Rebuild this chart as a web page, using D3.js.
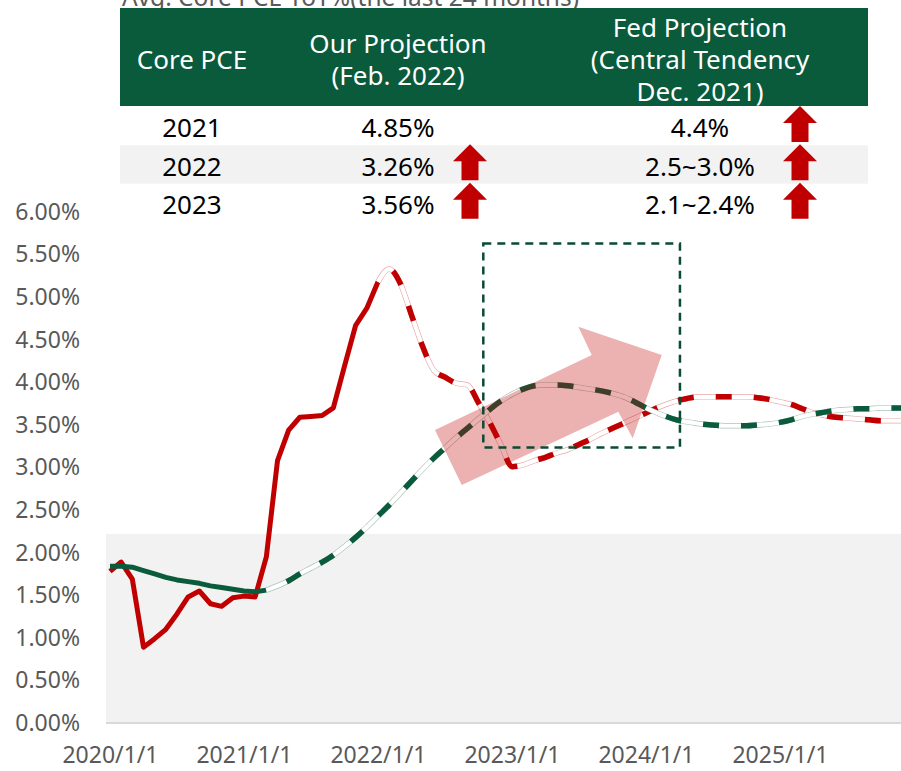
<!DOCTYPE html>
<html>
<head>
<meta charset="utf-8">
<script src="https://cdn.jsdelivr.net/npm/d3@7"></script>
<style>
  body { margin: 0; background: #fff; }
  text { font-family: "Noto Sans", sans-serif; }
</style>
</head>
<body>
<div id="chart"></div>
<script>
// months since 2020/1, monthly values in %
var redSeries = [1.78, 1.89, 1.69, 0.89, 0.99, 1.10, 1.28, 1.48, 1.55, 1.40,
  1.37, 1.47, 1.49, 1.48, 1.95, 3.08, 3.44, 3.59, 3.60, 3.61,
  3.70, 4.19, 4.67, 4.87, 5.18, 5.33, 5.16, 4.79, 4.42, 4.14,
  4.06, 3.99, 3.97, 3.76, 3.53, 3.27, 3.01, 3.03, 3.08, 3.12,
  3.17, 3.21, 3.27, 3.33, 3.40, 3.46, 3.52, 3.58, 3.64, 3.70,
  3.75, 3.79, 3.82, 3.83, 3.83, 3.83, 3.83, 3.83, 3.82, 3.80,
  3.77, 3.74, 3.69, 3.64, 3.61, 3.59, 3.58, 3.57, 3.56, 3.55,
  3.55, 3.55];
var greenSeries = [1.84, 1.84, 1.83, 1.79, 1.75, 1.71, 1.68, 1.66, 1.64, 1.61,
  1.59, 1.57, 1.55, 1.54, 1.56, 1.61, 1.67, 1.75, 1.82, 1.89,
  1.97, 2.07, 2.18, 2.30, 2.43, 2.56, 2.70, 2.84, 2.98, 3.11,
  3.23, 3.35, 3.46, 3.57, 3.68, 3.78, 3.86, 3.92, 3.96, 3.97,
  3.97, 3.96, 3.94, 3.92, 3.90, 3.87, 3.83, 3.77, 3.70, 3.64,
  3.59, 3.55, 3.53, 3.51, 3.50, 3.49, 3.49, 3.49, 3.50, 3.51,
  3.53, 3.56, 3.60, 3.63, 3.65, 3.67, 3.68, 3.69, 3.69, 3.70,
  3.70, 3.70];
var redSplit = 24;    // projection starts (dashed)
var greenSplit = 14;

var xTickMonths = [0, 12, 24, 36, 48, 60];
var xTickLabels = ["2020/1/1", "2021/1/1", "2022/1/1", "2023/1/1", "2024/1/1", "2025/1/1"];
var yTicks = [0, 0.5, 1, 1.5, 2, 2.5, 3, 3.5, 4, 4.5, 5, 5.5, 6];

var targetBand = [0, 2.22];   // shaded range, %

// table
var chartTitle = "Avg. Core PCE YoY%(the last 24 months)";
var headerCols = [["Core PCE"], ["Our Projection", "(Feb. 2022)"], ["Fed Projection", "(Central Tendency", "Dec. 2021)"]];
var rowYears = ["2021", "2022", "2023"];
var ourProj = ["4.85%", "3.26%", "3.56%"];
var fedProj = ["4.4%", "2.5~3.0%", "2.1~2.4%"];
var ourUp = [false, true, true];
var fedUp = [true, true, true];

// annotations in data units [month, %]
var boxRange = { m: [33.43, 51.04], v: [3.236, 5.63] };
var bigArrow = [[31.50, 2.794], [29.10, 3.44], [43.14, 4.32], [41.94, 4.653],
  [49.41, 4.32], [46.81, 3.343], [45.52, 3.655]];

var width = 901, height = 771;
var red = "#c00000", green = "#0a5a3c";

var svg = d3.select("#chart").append("svg")
  .attr("width", width)
  .attr("height", height);

var x = d3.scaleLinear().domain([0, 60]).range([110, 780]);
var y = d3.scaleLinear().domain([0, 6]).range([723, 212]);

// shaded band
svg.append("rect")
  .attr("x", x(-0.36))
  .attr("y", y(targetBand[1]))
  .attr("width", width - x(-0.36))
  .attr("height", y(targetBand[0]) - y(targetBand[1]))
  .attr("fill", "#f2f2f2");

// bottom axis line
svg.append("line")
  .attr("x1", x(-0.36)).attr("x2", width)
  .attr("y1", y(0)).attr("y2", y(0))
  .attr("stroke", "#d9d9d9").attr("stroke-width", 2);

// y axis
var yAxis = svg.append("g")
  .attr("transform", "translate(86,0)")
  .call(d3.axisLeft(y).tickValues(yTicks).tickSize(0).tickPadding(6)
    .tickFormat(function(d) { return d.toFixed(2) + "%"; }));
yAxis.select(".domain").remove();
yAxis.selectAll("text")
  .style("font-family", "Noto Sans")
  .style("font-size", "23px")
  .attr("fill", "#595959");

// x axis
var xAxis = svg.append("g")
  .attr("transform", "translate(0," + y(0) + ")")
  .call(d3.axisBottom(x).tickValues(xTickMonths).tickSize(0).tickPadding(24)
    .tickFormat(function(d, i) { return xTickLabels[i]; }));
xAxis.select(".domain").remove();
xAxis.selectAll("text")
  .style("font-family", "Noto Sans")
  .style("font-size", "23px")
  .attr("fill", "#595959");

function toPts(series) {
  return series.map(function(v, i) { return { m: i, v: v }; });
}

var solidLine = d3.line()
  .x(function(d) { return x(d.m); })
  .y(function(d) { return y(d.v); });
var projLine = d3.line()
  .curve(d3.curveMonotoneX)
  .x(function(d) { return x(d.m); })
  .y(function(d) { return y(d.v); });

function drawSeries(series, split, color, edge) {
  var pts = toPts(series);
  svg.append("path")
    .attr("d", solidLine(pts.slice(0, split + 1)))
    .attr("fill", "none")
    .attr("stroke", color)
    .attr("stroke-width", 5)
    .attr("stroke-linejoin", "round");

  var proj = projLine(pts.slice(split));
  // thin outline, white fill, coloured dashes
  svg.append("path").attr("d", proj)
    .attr("fill", "none").attr("stroke", edge).attr("stroke-width", 5.5);
  svg.append("path").attr("d", proj)
    .attr("fill", "none").attr("stroke", "#fff").attr("stroke-width", 4.2);
  svg.append("path").attr("d", proj)
    .attr("fill", "none").attr("stroke", color).attr("stroke-width", 5.5)
    .attr("stroke-dasharray", "16,22")
    .attr("stroke-dashoffset", 16);
}

drawSeries(redSeries, redSplit, red, "#eaa8a8");
drawSeries(greenSeries, greenSplit, green, "#a9c4b8");

// big translucent arrow
svg.append("polygon")
  .attr("points", bigArrow.map(function(p) { return x(p[0]) + "," + y(p[1]); }).join(" "))
  .attr("fill", "rgba(192,0,0,0.3)");

// dashed box
svg.append("rect")
  .attr("x", x(boxRange.m[0]))
  .attr("y", y(boxRange.v[1]))
  .attr("width", x(boxRange.m[1]) - x(boxRange.m[0]))
  .attr("height", y(boxRange.v[0]) - y(boxRange.v[1]))
  .attr("fill", "none")
  .attr("stroke", "#0b4a33")
  .attr("stroke-width", 2.5)
  .attr("stroke-dasharray", "8,6");

// ---- table ----
var tableX0 = 120, tableX1 = 868;
var colX = [192, 398, 700];
var arrowX = [470, 800];

svg.append("text")
  .attr("x", 122).attr("y", 6)
  .attr("fill", "#595959")
  .style("font-size", "24.5px")
  .text(chartTitle);

svg.append("rect")
  .attr("x", tableX0).attr("y", 8)
  .attr("width", tableX1 - tableX0).attr("height", 98)
  .attr("fill", green);

headerCols.forEach(function(lines, c) {
  lines.forEach(function(t, k) {
    svg.append("text")
      .attr("x", colX[c])
      .attr("y", 60 + (k - (lines.length - 1) / 2) * 32 + 9)
      .attr("text-anchor", "middle")
      .attr("fill", "#fff")
      .style("font-size", "26px")
      .text(t);
  });
});

var row = d3.scaleBand().domain(rowYears).range([107, 222]);

svg.selectAll(".rowbg")
  .data(rowYears.filter(function(d, i) { return i % 2 == 1; }))
  .enter().append("rect")
  .attr("x", tableX0).attr("width", tableX1 - tableX0)
  .attr("y", function(d) { return row(d); })
  .attr("height", row.bandwidth())
  .attr("fill", "#f2f2f2");

function upArrow(cx, top) {
  var hw = 17, sw = 8.5, hh = 17, h = 36;
  return [[cx, top], [cx + hw, top + hh], [cx + sw, top + hh], [cx + sw, top + h],
    [cx - sw, top + h], [cx - sw, top + hh], [cx - hw, top + hh]]
    .map(function(p) { return p.join(","); }).join(" ");
}

rowYears.forEach(function(yr, i) {
  var base = row(yr) + row.bandwidth() / 2 + 11;
  [yr, ourProj[i], fedProj[i]].forEach(function(t, c) {
    svg.append("text")
      .attr("x", colX[c]).attr("y", base)
      .attr("text-anchor", "middle")
      .attr("fill", "#000")
      .style("font-size", "26px")
      .text(t);
  });
  [ourUp[i], fedUp[i]].forEach(function(up, c) {
    if (!up) return;
    svg.append("polygon")
      .attr("points", upArrow(arrowX[c], row(yr) - 1))
      .attr("fill", red);
  });
});
</script>
</body>
</html>
